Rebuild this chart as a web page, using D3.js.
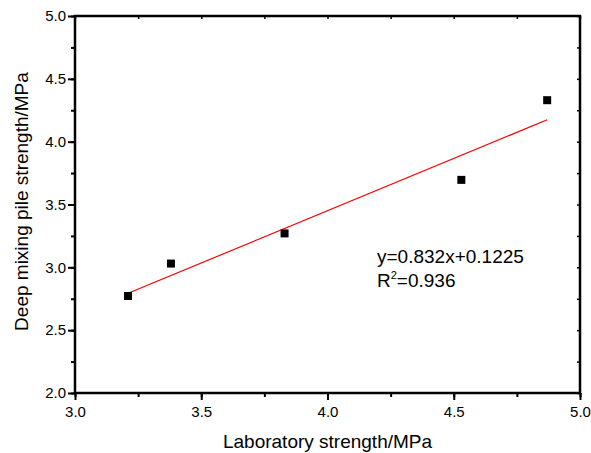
<!DOCTYPE html>
<html>
<head>
<meta charset="utf-8">
<script src="https://cdn.jsdelivr.net/npm/d3@7"></script>
<style>
  body { margin: 0; background: #fff; }
  text { font-family: "Liberation Sans", Arial, sans-serif; }
</style>
</head>
<body>
<script>
// data
const labStrength = [3.21, 3.38, 3.83, 4.53, 4.87];
const pileStrength = [2.772, 3.03, 3.27, 3.696, 4.33];
const xTicks = [3.0, 3.5, 4.0, 4.5, 5.0];
const yTicks = [2.0, 2.5, 3.0, 3.5, 4.0, 4.5, 5.0];
const slope = 0.832;
const intercept = 0.1225;
const r2 = "0.936";

const width = 591;
const height = 453;
const margin = { top: 16, right: 11, bottom: 60, left: 75 };
const w = width - margin.left - margin.right;
const h = height - margin.top - margin.bottom;

const svg = d3.select("body").append("svg")
  .attr("width", width)
  .attr("height", height);

const g = svg.append("g")
  .attr("transform", `translate(${margin.left},${margin.top})`);

const xScale = d3.scaleLinear().domain([3, 5]).range([0, w]);
const yScale = d3.scaleLinear().domain([2, 5]).range([h, 0]);

const minorX = d3.range(3, 5.001, 0.25);
const minorY = d3.range(2, 5.001, 0.25);

// inward ticks on top and right
g.append("g")
  .call(d3.axisBottom(xScale).tickValues(minorX).tickSize(3).tickFormat(""))
  .call(a => a.select(".domain").remove())
  .selectAll("line").attr("stroke-width", 1.5);
g.append("g")
  .attr("transform", `translate(${w},0)`)
  .call(d3.axisLeft(yScale).tickValues(minorY).tickSize(3).tickFormat(""))
  .call(a => a.select(".domain").remove())
  .selectAll("line").attr("stroke-width", 1.5);

// minor ticks, outward
g.append("g")
  .attr("transform", `translate(0,${h})`)
  .call(d3.axisBottom(xScale).tickValues(minorX).tickSize(4).tickFormat(""))
  .call(a => a.select(".domain").remove())
  .selectAll("line").attr("stroke-width", 2);
g.append("g")
  .call(d3.axisLeft(yScale).tickValues(minorY).tickSize(4).tickFormat(""))
  .call(a => a.select(".domain").remove())
  .selectAll("line").attr("stroke-width", 2);

// major ticks with labels
const xAxis = g.append("g")
  .attr("transform", `translate(0,${h})`)
  .call(d3.axisBottom(xScale).tickValues(xTicks).tickSize(7).tickPadding(6).tickFormat(d3.format(".1f")));
xAxis.select(".domain").remove();
xAxis.selectAll("line").attr("stroke-width", 2);
xAxis.selectAll("text").attr("font-size", 15).attr("fill", "#000");

const yAxis = g.append("g")
  .call(d3.axisLeft(yScale).tickValues(yTicks).tickSize(7).tickPadding(2).tickFormat(d3.format(".1f")));
yAxis.select(".domain").remove();
yAxis.selectAll("line").attr("stroke-width", 2);
yAxis.selectAll("text").attr("font-size", 15).attr("fill", "#000");

// frame
g.append("rect")
  .attr("x", 0).attr("y", 0)
  .attr("width", w).attr("height", h)
  .attr("fill", "none")
  .attr("stroke", "#000")
  .attr("stroke-width", 2.5);

// fit line
const x0 = d3.min(labStrength), x1 = d3.max(labStrength);
g.append("line")
  .attr("x1", xScale(x0)).attr("y1", yScale(slope * x0 + intercept))
  .attr("x2", xScale(x1)).attr("y2", yScale(slope * x1 + intercept))
  .attr("stroke", "red")
  .attr("stroke-width", 1.2);

// points
const pts = labStrength.map((x, i) => ({ x, y: pileStrength[i] }));
g.selectAll("rect.pt")
  .data(pts)
  .enter()
  .append("rect")
  .attr("class", "pt")
  .attr("x", d => xScale(d.x) - 4)
  .attr("y", d => yScale(d.y) - 4)
  .attr("width", 8)
  .attr("height", 8)
  .attr("fill", "#000");

// equation
g.append("text")
  .attr("x", 377 - margin.left)
  .attr("y", 263 - margin.top)
  .attr("font-size", 19)
  .text(`y=${slope}x+${intercept}`);
const r = g.append("text")
  .attr("x", 377 - margin.left)
  .attr("y", 287 - margin.top)
  .attr("font-size", 19);
r.append("tspan").text("R");
r.append("tspan").attr("dy", -8).attr("font-size", 11).text("2");
r.append("tspan").attr("dy", 8).text("=" + r2);

// axis titles
svg.append("text")
  .attr("x", margin.left + w / 2)
  .attr("y", 448)
  .attr("text-anchor", "middle")
  .attr("font-size", 19)
  .text("Laboratory strength/MPa");

svg.append("text")
  .attr("transform", `translate(28,${margin.top + h / 2 - 3}) rotate(-90)`)
  .attr("text-anchor", "middle")
  .attr("font-size", 19)
  .text("Deep mixing pile strength/MPa");
</script>
</body>
</html>
